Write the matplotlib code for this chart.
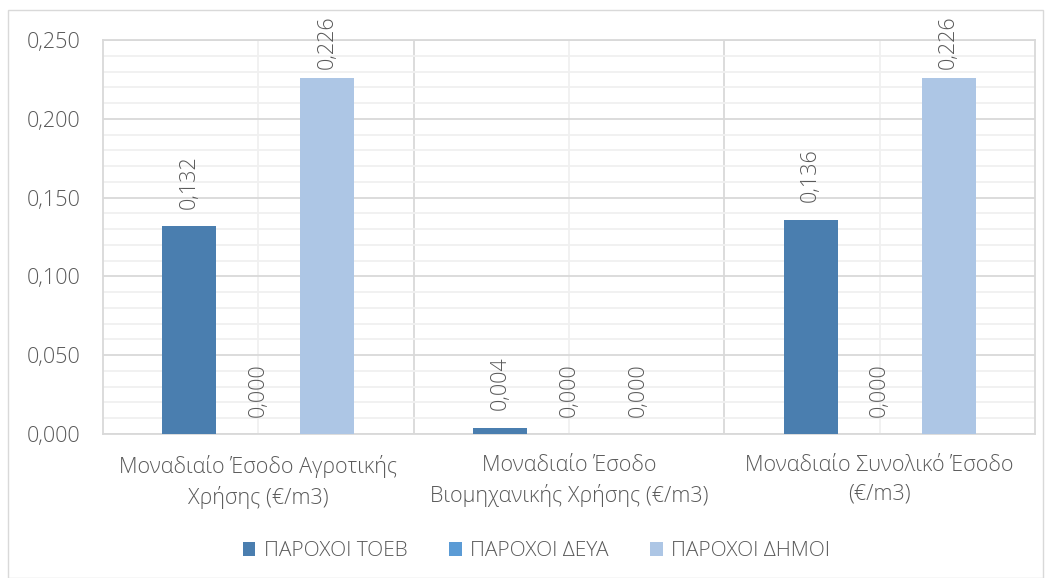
import numpy as np
import matplotlib
matplotlib.use("Agg")
import matplotlib.pyplot as plt
from matplotlib.patches import Rectangle
from matplotlib.ticker import MultipleLocator, FuncFormatter

plt.rcParams['font.family'] = ['Open Sans', 'DejaVu Sans']
plt.rcParams['font.weight'] = 'light'

categories = ['Μοναδιαίο Έσοδο Αγροτικής\nΧρήσης (€/m3)',
              'Μοναδιαίο Έσοδο\nΒιομηχανικής Χρήσης (€/m3)',
              'Μοναδιαίο Συνολικό Έσοδο\n(€/m3)']
series_names = ['ΠΑΡΟΧΟΙ ΤΟΕΒ', 'ΠΑΡΟΧΟΙ ΔΕΥΑ', 'ΠΑΡΟΧΟΙ ΔΗΜΟΙ']
toeb = [0.132, 0.004, 0.136]
deya = [0.000, 0.000, 0.000]
dimoi = [0.226, 0.000, 0.226]
colors = ['#4A7EAF', '#5B9BD5', '#ADC6E5']

text_col = '#595959'
W, H = 1051, 578
fig = plt.figure(figsize=(W / 100, H / 100), dpi=100)
fig.patches.append(Rectangle((8 / W, 0), 1035 / W, 1 - 10 / H,
                             transform=fig.transFigure, fill=False,
                             edgecolor='#D9D9D9', linewidth=1))
ax = fig.add_axes([103 / W, 1 - 434 / H, 932 / W, 394 / H])

x = np.arange(len(categories))
w = 0.174
off = 0.222
labels = []
for i, (vals, name) in enumerate(zip([toeb, deya, dimoi], series_names)):
    pos = x + (i - 1) * off
    ax.bar(pos, vals, width=w, color=colors[i], label=name, zorder=3)
    for p, v in zip(pos, vals):
        t = ax.annotate(f'{v:.3f}'.replace('.', ','), (p, v), xytext=(0, 12.5),
                        textcoords='offset points', rotation=90, ha='center',
                        va='bottom', fontsize=15.5, color=text_col)
        labels.append(t)

ax.set_xlim(-0.5, 2.5)
ax.set_ylim(0, 0.25)
ax.yaxis.set_major_locator(MultipleLocator(0.05))
ax.yaxis.set_minor_locator(MultipleLocator(0.01))
ax.yaxis.set_major_formatter(FuncFormatter(lambda v, _: f'{v:.3f}'.replace('.', ',')))
ax.set_xticks(x)
ax.set_xticks([0.5, 1.5], minor=True)
ax.set_xticklabels(categories, fontsize=15.5, color=text_col, linespacing=1.45)
ax.tick_params(axis='y', labelsize=15.5, colors=text_col, length=0, pad=16)
ax.tick_params(axis='x', length=0, pad=15, which='both')
ax.tick_params(axis='y', which='minor', length=0)

ax.grid(which='major', axis='y', color='#D9D9D9', linewidth=1.3, zorder=0)
ax.grid(which='minor', axis='y', color='#F0F0F0', linewidth=1.3, zorder=0)
ax.grid(which='minor', axis='x', color='#D9D9D9', linewidth=1.3, zorder=0)
ax.grid(which='major', axis='x', color='#F0F0F0', linewidth=1.3, zorder=0)
for s in ax.spines.values():
    s.set_color('#D9D9D9')
    s.set_linewidth(1.3)

ax.legend(loc='upper center', bbox_to_anchor=(0.465, -0.225), ncol=3, frameon=False,
          fontsize=15, labelcolor=text_col, handlelength=0.6, handleheight=0.6,
          columnspacing=2.0, handletextpad=0.4)

# keep labels inside the chart area (like Excel does near the top)
fig.canvas.draw()
r = fig.canvas.get_renderer()
for t in labels:
    top = t.get_window_extent(r).y1
    if top > H - 15:
        shift = (top - (H - 15)) * 72 / 100
        t.xyann = (0, 12.5 - shift)

fig.savefig('out.png', dpi=100)
